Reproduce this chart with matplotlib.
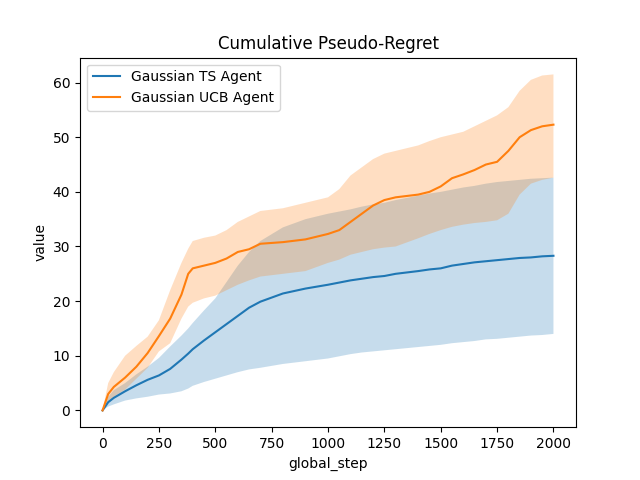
import numpy as np
import matplotlib.pyplot as plt

# values
steps = [0, 25, 50, 100, 150, 200, 250, 300, 350, 380, 400, 450, 500, 550, 600,
         650, 700, 800, 900, 1000, 1050, 1100, 1150, 1200, 1250, 1300, 1400,
         1450, 1500, 1550, 1600, 1650, 1700, 1750, 1800, 1850, 1900, 1950, 2000]

ts_mean = [0, 1.5, 2.3, 3.5, 4.6, 5.6, 6.4, 7.6, 9.3, 10.4, 11.2, 12.8, 14.3,
           15.8, 17.3, 18.8, 19.9, 21.4, 22.3, 23.0, 23.4, 23.8, 24.1, 24.4,
           24.6, 25.0, 25.5, 25.8, 26.0, 26.5, 26.8, 27.1, 27.3, 27.5, 27.7,
           27.9, 28.0, 28.2, 28.3]
ts_low = [0, 0.7, 1.1, 1.8, 2.2, 2.5, 2.9, 3.1, 3.5, 4.0, 4.5, 5.2, 5.8, 6.4,
          7.0, 7.5, 7.8, 8.5, 9.0, 9.5, 9.9, 10.3, 10.6, 10.8, 11.0, 11.2,
          11.6, 11.8, 12.0, 12.3, 12.5, 12.7, 13.0, 13.1, 13.3, 13.5, 13.7,
          13.8, 14.0]
ts_high = [0, 2.5, 3.7, 5.0, 6.6, 8.0, 9.6, 11.7, 13.7, 15.0, 16.0, 18.3,
           20.5, 23.5, 26.5, 29.0, 31.0, 33.5, 35.0, 36.0, 36.4, 36.8, 37.3,
           37.7, 38.0, 38.5, 39.3, 39.7, 40.0, 40.4, 40.8, 41.1, 41.5, 41.8,
           42.0, 42.2, 42.4, 42.5, 42.6]

ucb_mean = [0, 3.0, 4.3, 6.0, 8.0, 10.5, 13.6, 16.8, 21.2, 25.0, 26.0, 26.5,
            27.0, 27.8, 29.0, 29.5, 30.5, 30.8, 31.3, 32.3, 33.0, 34.5, 36.0,
            37.5, 38.5, 39.0, 39.5, 40.0, 41.0, 42.5, 43.2, 44.0, 45.0, 45.5,
            47.5, 50.0, 51.3, 52.0, 52.3]
ucb_low = [0, 1.5, 2.5, 3.8, 5.8, 7.8, 10.8, 12.3, 16.8, 19.0, 19.7, 20.5,
           21.0, 22.0, 23.0, 23.8, 24.5, 25.0, 25.5, 27.0, 27.6, 28.5, 29.0,
           29.5, 29.8, 30.0, 31.5, 32.3, 33.0, 33.6, 34.0, 34.3, 34.5, 34.8,
           36.0, 39.5, 41.5, 42.2, 42.6]
ucb_high = [0, 5.0, 7.0, 10.0, 11.8, 13.5, 16.5, 22.0, 27.0, 29.6, 31.0,
            31.6, 32.0, 33.0, 34.5, 35.5, 36.5, 37.0, 38.0, 39.0, 40.5, 43.0,
            44.5, 46.0, 47.0, 47.5, 48.5, 49.3, 50.0, 50.5, 51.0, 52.0, 53.0,
            54.0, 55.5, 58.5, 60.5, 61.3, 61.5]

fig, ax = plt.subplots(figsize=(6.4, 4.8), dpi=100)

ax.plot(steps, ts_mean, label='Gaussian TS Agent')
ax.fill_between(steps, ts_low, ts_high, alpha=0.25)
ax.plot(steps, ucb_mean, label='Gaussian UCB Agent')
ax.fill_between(steps, ucb_low, ucb_high, alpha=0.25)

ax.set_title('Cumulative Pseudo-Regret')
ax.set_xlabel('global_step')
ax.set_ylabel('value')
ax.legend(loc='upper left')

plt.savefig('out.png')
